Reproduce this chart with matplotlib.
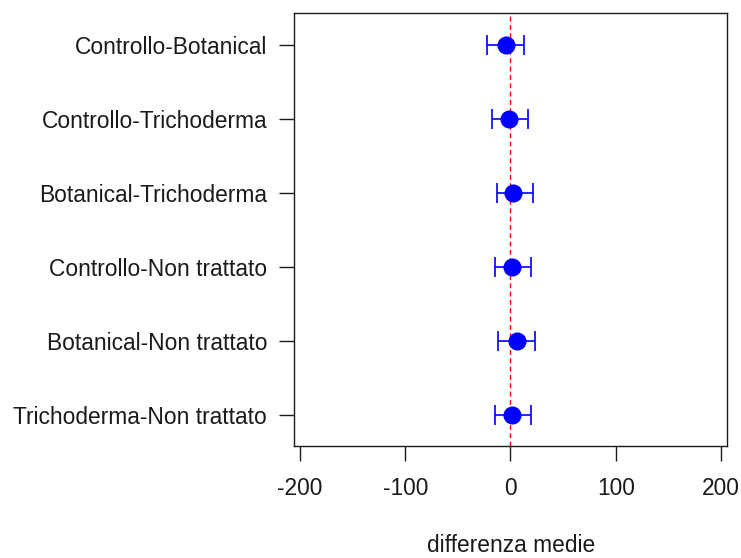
import numpy as np
import matplotlib.pyplot as plt

plt.rcParams['font.family'] = ['Liberation Sans', 'DejaVu Sans']

# confronti (dal basso verso l'alto come nel grafico R)
confronti = ['Trichoderma-Non trattato', 'Botanical-Non trattato', 'Controllo-Non trattato',
             'Botanical-Trichoderma', 'Controllo-Trichoderma', 'Controllo-Botanical']
diff = [1.7, 5.9, 1.1, 2.7, -1.1, -4.5]
lower = [-14.7, -12.2, -14.7, -13.1, -17.6, -22.0]
upper = [19.5, 23.0, 19.5, 21.1, 17.0, 12.8]
xticks = [-200, -100, 0, 100, 200]

y = np.arange(1, len(confronti) + 1)
diff = np.array(diff)
err = np.vstack([diff - np.array(lower), np.array(upper) - diff])

fig = plt.figure(figsize=(7.41, 5.58), dpi=100)
ax = fig.add_axes([0.397, 0.2007, 0.5845, 0.7753])

ax.axvline(0, color='red', lw=1.0, dashes=(3.5, 2.5), zorder=1)
ax.errorbar(diff, y, xerr=err, fmt='none', ecolor='blue', elinewidth=1.2,
            capsize=7, capthick=1.2, zorder=2)
ax.plot(diff, y, 'o', color='blue', markersize=12, zorder=3)

ax.set_xlim(-205.5, 206)
ax.set_ylim(0.58, 6.43)
ax.set_xticks(xticks)
ax.set_xticklabels([str(t) for t in xticks])
ax.set_yticks(y)
ax.set_yticklabels(confronti)
ax.tick_params(axis='both', labelsize=16.4, length=10.5, width=1.0, colors='#1a1a1a')
ax.tick_params(axis='x', pad=12)
ax.tick_params(axis='y', pad=9)
for s in ax.spines.values():
    s.set_linewidth(1.0)
    s.set_color('#1a1a1a')

ax.set_xlabel('differenza medie', fontsize=16.4, labelpad=24, color='#1a1a1a')

fig.savefig('out.png', dpi=100)
